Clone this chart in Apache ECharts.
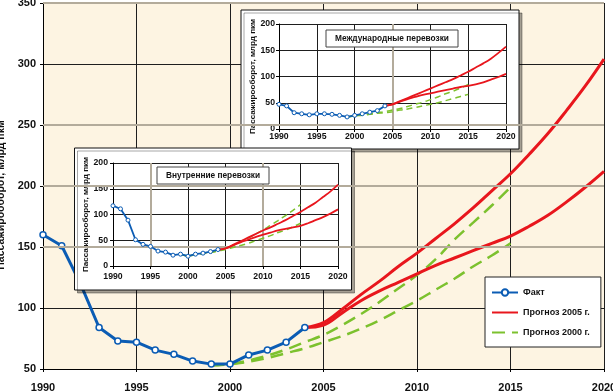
<!DOCTYPE html>
<html><head><meta charset="utf-8">
<script src="https://cdn.jsdelivr.net/npm/echarts@6/dist/echarts.min.js"></script>
<style>html,body{margin:0;padding:0;background:#fff}#c{width:613px;height:391px}</style>
</head><body><div id="c"></div><script>
const FONT = "'Liberation Sans Narrow', 'Arial Narrow', sans-serif";

// ---- data ----
const factYears = [1990,1991,1992,1993,1994,1995,1996,1997,1998,1999,2000,2001,2002,2003,2004];
const f2005Years = [2004,2005,2006,2007,2008,2009,2010,2011,2012,2013,2014,2015,2016,2017,2018,2019,2020];
const f2000Years = [1999,2000,2001,2002,2003,2004,2005,2006,2007,2008,2009,2010,2011,2012,2013,2014,2015];

// main chart (total)
const mainFact    = [160,151,120,84,73,72,65.5,62,56.5,54,54,61.5,65.5,72,84];
const mainF2005Hi = [84,88,99,111,122,134,145,157,169,182,196,210,226,243,262,282,304];
const mainF2005Lo = [84,86,96,106,114,121,128,135,141,147,153,159,167,176,187,199,212];
const mainF2000Hi = [53,54,57,61,66,72,78,86,95,105,116,127,140,156,170,184,199];
const mainF2000Lo = [53,54,56,59,63,67,72,77,83,90,98,106,115,124,134,143,153];

// inset: international
const intlFact    = [47,44,31,29,27,29,29,28,26,23,26,29,32,35,44];
const intlF2005Hi = [44,47,53,59,65,71,77,83,89,95,102,109,117,125,134,145,157];
const intlF2005Lo = [44,47,52,57,61,65,68,71,74,77,80,82,85,89,94,99,105];
const intlF2000Hi = [23,25,27,29,31,33,36,39,43,47,51,56,61,67,72,78,85];
const intlF2000Lo = [23,25,26,28,30,31,33,36,38,41,44,47,50,54,58,62,66];

// inset: domestic
const domFact    = [117,111,89,51,42,38,29,27,21,23,19,23,25,28,32];
const domF2005Hi = [32,34,41,48,55,62,69,75,82,89,97,105,114,123,134,145,158];
const domF2005Lo = [32,34,40,46,51,56,61,65,69,72,75,78,83,89,95,102,110];
const domF2000Hi = [22,20,22,24,27,30,34,40,47,54,62,70,79,88,98,108,119];
const domF2000Lo = [22,20,22,24,26,29,32,36,40,44,49,54,59,65,70,76,83];

const NAME_FACT = 'Факт', NAME_05 = 'Прогноз 2005 г.', NAME_00 = 'Прогноз 2000 г.';
const yName = 'Пассажирооборот, млрд пкм';
const title1 = 'Международные перевозки', title2 = 'Внутренние перевозки';

const BLUE = '#0b5cb4', RED = '#e8161d', GREEN = '#7cc12e', GRAYLINE = '#b3ab9b', DARK = '#1e1e1e';
const pair = (ys, vs) => ys.map((y, i) => [y, vs[i]]);
const plain = v => String(v);

function lbl(size, margin) {
  return {fontFamily: FONT, fontWeight: 'bold', color: '#111', fontSize: size, margin: margin, formatter: plain};
}
function xAx(grid, opt) {
  return Object.assign({
    type: 'value', gridIndex: grid, min: 1990, max: 2020, interval: 5,
    axisLine: {show: true, lineStyle: {color: '#000', width: 1}},
    axisTick: {show: true, length: 3, lineStyle: {color: '#000'}},
    splitLine: {show: true, lineStyle: {color: DARK, width: 1}}
  }, opt);
}
function yAx(grid, opt) {
  return Object.assign({
    type: 'value', gridIndex: grid,
    axisLine: {show: true, lineStyle: {color: '#000', width: 1}},
    axisTick: {show: true, length: 3, lineStyle: {color: '#000'}},
    splitLine: {show: true, lineStyle: {color: DARK, width: 1}},
    nameLocation: 'middle', nameRotate: 90
  }, opt);
}
function guide(xi, yi, z, lines) {
  return {type: 'line', xAxisIndex: xi, yAxisIndex: yi, data: [], z: z, silent: true,
    markLine: {silent: true, symbol: 'none', label: {show: false}, animation: false,
      lineStyle: {color: GRAYLINE, width: 2, type: 'solid'}, data: lines}};
}
function setOf(xi, yi, z, fact, hi05, lo05, hi00, lo00, w) {
  const g = {type: 'line', xAxisIndex: xi, yAxisIndex: yi, z: z, showSymbol: false, symbol: 'none', smooth: 0.4,
    lineStyle: {color: GREEN, width: w.g, type: w.dash}, itemStyle: {color: GREEN}};
  const r = {type: 'line', xAxisIndex: xi, yAxisIndex: yi, z: z, showSymbol: false, symbol: 'none', smooth: 0.4,
    lineStyle: {color: RED, width: w.r}, itemStyle: {color: RED}};
  return [
    Object.assign({}, g, {name: NAME_00, data: pair(f2000Years, hi00)}),
    Object.assign({}, g, {name: NAME_00, data: pair(f2000Years, lo00)}),
    Object.assign({}, r, {name: NAME_05, data: pair(f2005Years, hi05)}),
    Object.assign({}, r, {name: NAME_05, data: pair(f2005Years, lo05)}),
    {type: 'line', name: NAME_FACT, xAxisIndex: xi, yAxisIndex: yi, z: z + 0.1, data: pair(factYears, fact),
      symbol: 'circle', symbolSize: w.s, showSymbol: true,
      lineStyle: {color: BLUE, width: w.b}, itemStyle: {color: '#fff', borderColor: BLUE, borderWidth: w.sb}}
  ];
}

const chart = echarts.init(document.getElementById('c'), null, {renderer: 'canvas'});
const option = {
  animation: false,
  backgroundColor: '#fff',
  grid: [
    {left: 43, top: 3, width: 561, height: 366, show: true, backgroundColor: '#fdf4e2', borderWidth: 0,
      containLabel: false, outerBoundsMode: 'none'},
    {left: 279, top: 24, width: 227, height: 105, containLabel: false, outerBoundsMode: 'none'},
    {left: 113, top: 163, width: 225, height: 103, containLabel: false, outerBoundsMode: 'none'}
  ],
  xAxis: [
    xAx(0, {axisLabel: lbl(11, 13)}),
    xAx(1, {z: 4, axisLabel: lbl(8.7, 3)}),
    xAx(2, {z: 4, axisLabel: lbl(8.7, 6)})
  ],
  yAxis: [
    yAx(0, {min: 50, max: 350, interval: 50, name: yName, nameGap: 27,
      nameTextStyle: {fontFamily: FONT, fontWeight: 'bold', color: '#111', fontSize: 10.5, padding: [0, 18, 0, 0]},
      axisLabel: lbl(11, 7)}),
    yAx(1, {z: 4, min: 0, max: 200, interval: 50, name: yName, nameGap: 22,
      nameTextStyle: {fontFamily: FONT, fontWeight: 'bold', color: '#111', fontSize: 8.1},
      axisLabel: lbl(8.7, 4)}),
    yAx(2, {z: 4, min: 0, max: 200, interval: 50, name: yName, nameGap: 22,
      nameTextStyle: {fontFamily: FONT, fontWeight: 'bold', color: '#111', fontSize: 8.1},
      axisLabel: lbl(8.7, 5)})
  ],
  legend: {
    data: [NAME_FACT, {name: NAME_05, itemStyle: {opacity: 0}}, {name: NAME_00, itemStyle: {opacity: 0}}],
    orient: 'vertical', left: 485, top: 277, z: 10,
    backgroundColor: '#fff', borderColor: '#222', borderWidth: 1, padding: [11, 11, 10, 6],
    itemWidth: 26, itemHeight: 8, itemGap: 11,
    textStyle: {fontFamily: FONT, fontWeight: 'bold', fontSize: 9, color: '#111'}
  },
  graphic: [
    {type: 'rect', z: 3, shape: {x: 241, y: 10, width: 278, height: 139},
      style: {fill: '#fff', stroke: '#111', lineWidth: 1, shadowColor: 'rgba(0,0,0,0.35)', shadowOffsetX: 3, shadowOffsetY: 3, shadowBlur: 0}},
    {type: 'rect', z: 3, shape: {x: 74.5, y: 148, width: 277, height: 142},
      style: {fill: '#fff', stroke: '#111', lineWidth: 1, shadowColor: 'rgba(0,0,0,0.35)', shadowOffsetX: 3, shadowOffsetY: 3, shadowBlur: 0}},
    {type: 'rect', z: 6, shape: {x: 326, y: 30, width: 132, height: 17},
      style: {fill: '#fff', stroke: '#444', lineWidth: 1}},
    {type: 'text', z: 7, x: 392, y: 38.5,
      style: {text: title1, fontFamily: FONT, fontWeight: 'bold', fontSize: 8.3, fill: '#111', align: 'center', verticalAlign: 'middle'}},
    {type: 'rect', z: 6, shape: {x: 157, y: 167, width: 112, height: 17},
      style: {fill: '#fff', stroke: '#444', lineWidth: 1}},
    {type: 'text', z: 7, x: 213, y: 175.5,
      style: {text: title2, fontFamily: FONT, fontWeight: 'bold', fontSize: 8.3, fill: '#111', align: 'center', verticalAlign: 'middle'}}
  ],
  series: [].concat(
    setOf(0, 0, 2, mainFact, mainF2005Hi, mainF2005Lo, mainF2000Hi, mainF2000Lo,
      {g: 2.5, r: 3, b: 3, s: 6, sb: 1.5, dash: [13, 7]}),
    [guide(0, 0, 1, [{yAxis: 150}, {yAxis: 200}, {yAxis: 250}, {yAxis: 350}])],
    setOf(1, 1, 5, intlFact, intlF2005Hi, intlF2005Lo, intlF2000Hi, intlF2000Lo,
      {g: 1.5, r: 1.8, b: 1.8, s: 4, sb: 1, dash: [6, 4]}),
    [guide(1, 1, 4, [{xAxis: 2005}])],
    setOf(2, 2, 5, domFact, domF2005Hi, domF2005Lo, domF2000Hi, domF2000Lo,
      {g: 1.5, r: 1.8, b: 1.8, s: 4, sb: 1, dash: [6, 4]}),
    [guide(2, 2, 4, [{xAxis: 1995}, {xAxis: 2010}])]
  )
};
chart.setOption(option);
</script></body></html>
